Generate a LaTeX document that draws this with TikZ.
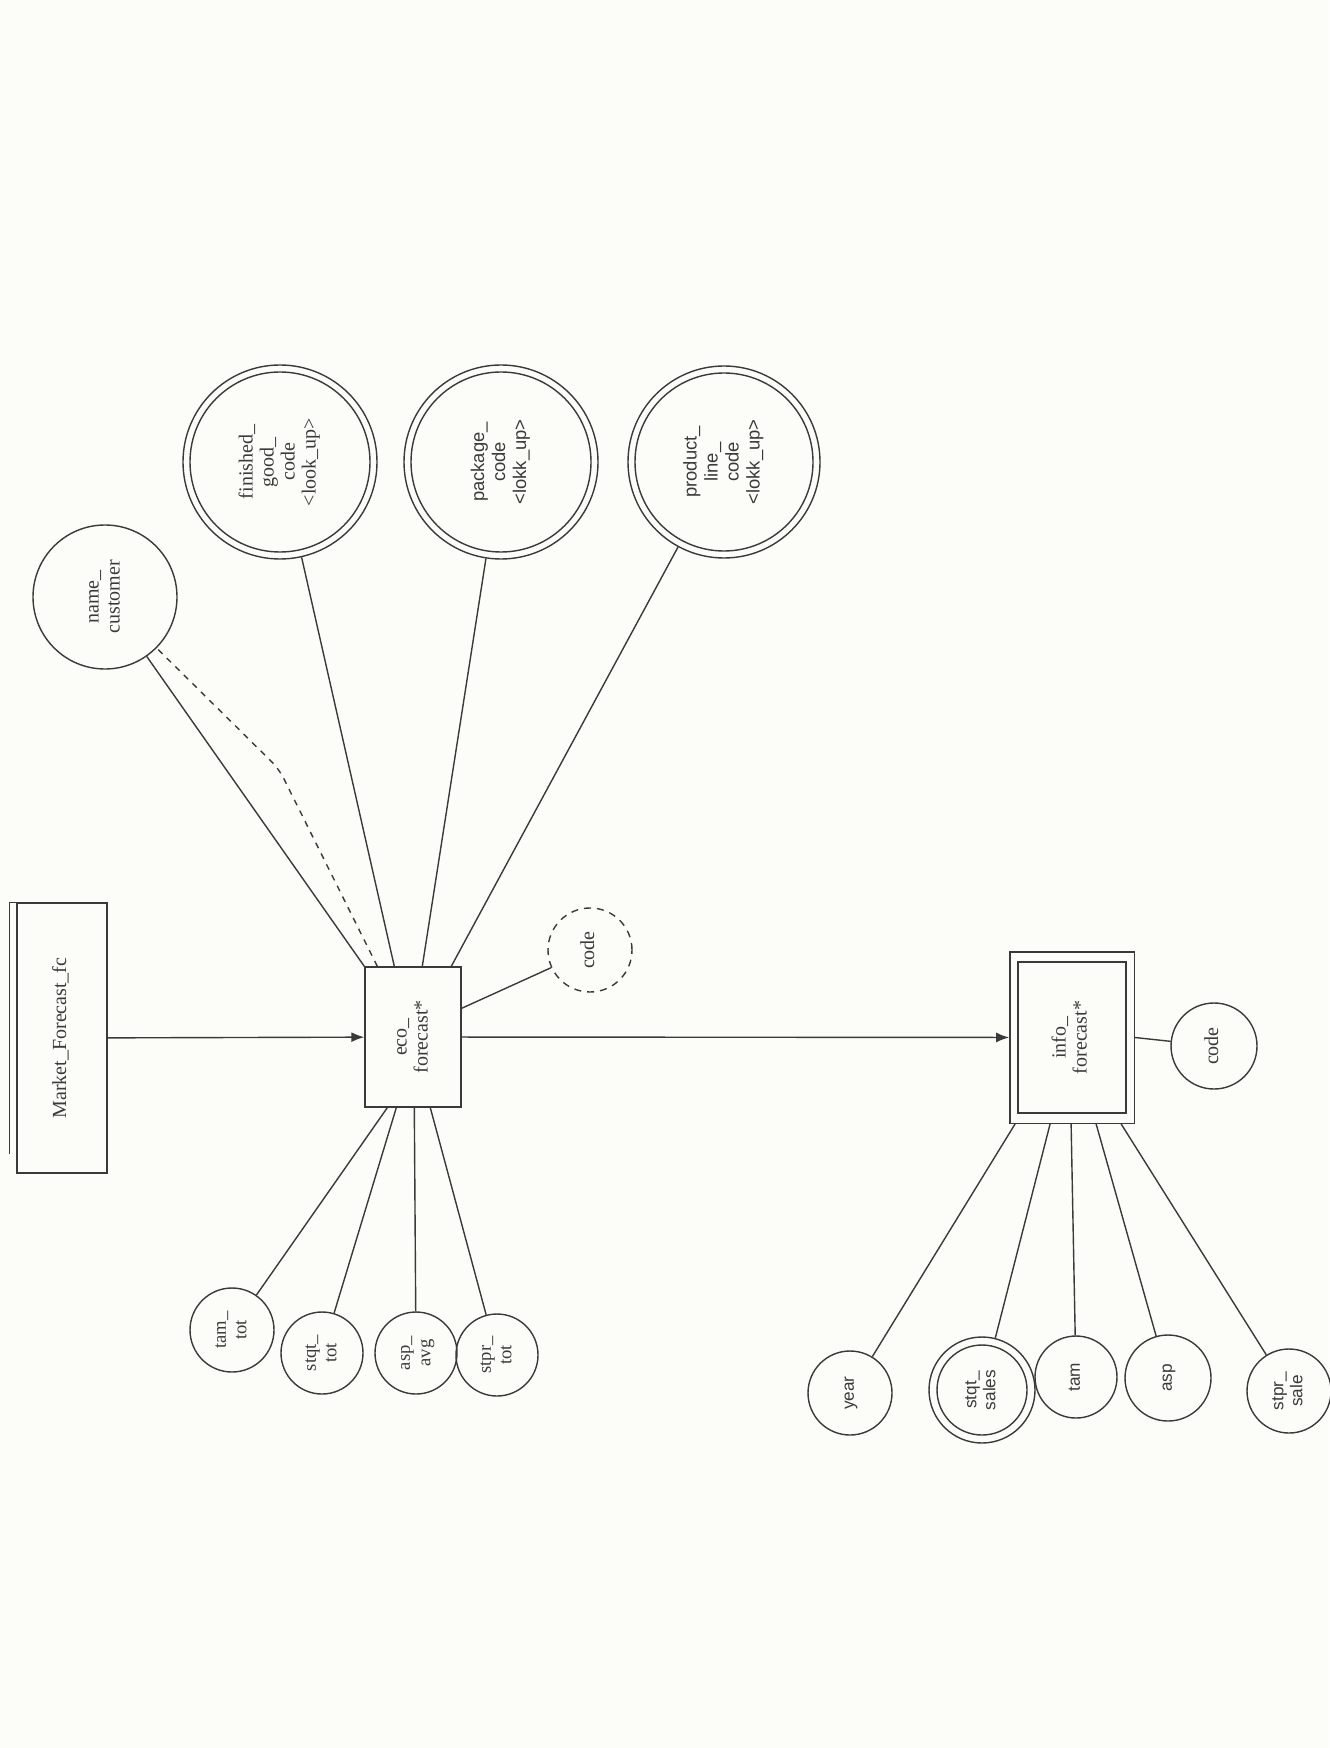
\documentclass[tikz,border=0pt]{standalone}
\usepackage{fontspec}
\setmainfont{Liberation Serif}
\newfontfamily\sansf{Liberation Sans}
\usepackage{graphicx}
\usetikzlibrary{arrows.meta,fit,calc}
\definecolor{paper}{HTML}{FCFCF8}
\definecolor{ink}{HTML}{3A3A3A}
% text set bottom-to-top, lines stacked left to right
\newcommand\vtext[1]{\rotatebox{90}{\begin{tabular}{@{}c@{}}#1\end{tabular}}}

\begin{document}
\begin{tikzpicture}[x=0.5pt,y=-0.5pt,
  every node/.style={font=\fontsize{10}{10.5}\selectfont, text=ink},
  ln/.style={draw=ink, line width=0.7pt},
  entity/.style={ln, rectangle, inner sep=0pt},
  attr/.style={ln, circle, inner sep=0pt},
  arr/.style={ln, -{Latex[length=6.5pt,width=5pt]}},
  small/.style={font=\fontsize{9.3}{10.3}\selectfont},
  sans/.style={font=\sansf\fontsize{9.2}{10.5}\selectfont},
  smallsans/.style={font=\sansf\fontsize{8.6}{9.6}\selectfont},
  dashcirc/.style={dash pattern=on 3.5pt off 3pt},
]
\useasboundingbox (0,0) rectangle (1329,1748);
\fill[paper] (0,0) rectangle (1329,1748);

% entities
\node[entity, minimum width=45pt, minimum height=135pt] (mkt) at (62,1038)
  {\vtext{Market\_Forecast\_fc}};
\draw[ln] ([xshift=-3.5pt,yshift=10pt]mkt.south west) -- ([xshift=-3.5pt]mkt.north west) -- (mkt.north west);

\node[entity, minimum width=48pt, minimum height=70pt] (eco) at (413,1037)
  {\vtext{eco\_\\forecast*}};

\node[entity, minimum width=54pt, minimum height=75.5pt] (infoin) at (1072,1037.5)
  {\vtext{info\_\\forecast*}};
\node[entity, fit=(infoin), inner xsep=3.75pt, inner ysep=4.75pt] (info) {};

% attributes of eco_forecast
\node[attr, minimum size=72pt] (name) at (105,597) {\vtext{name\_\\customer}};

\node[attr, minimum size=97pt] (fg) at (280,462) {};
\node[attr, minimum size=90pt] (fgin) at (fg) {\vtext{finished\_\\good\_\\code\\<look\_up>}};

\node[attr, minimum size=97pt] (pkg) at (501,462) {};
\node[attr, minimum size=90pt, sans] (pkgin) at (pkg) {\vtext{package\_\\code\\<lokk\_up>}};

\node[attr, minimum size=96pt] (prod) at (724,462) {};
\node[attr, minimum size=89pt, sans] (prodin) at (prod) {\vtext{product\_\\line\_\\code\\<lokk\_up>}};

\node[attr, dashcirc, minimum size=42pt] (ecocode) at (590,950) {\vtext{code}};

\node[attr, small, minimum size=42pt] (tamtot) at (232,1330) {\vtext{tam\_\\tot}};
\node[attr, small, minimum size=41pt] (stqttot) at (322,1353) {\vtext{stqt\_\\tot}};
\node[attr, small, minimum size=41pt] (aspavg) at (416,1353) {\vtext{asp\_\\avg}};
\node[attr, small, minimum size=41pt] (stprtot) at (497,1355) {\vtext{stpr\_\\tot}};

% attributes of info_forecast
\node[attr, minimum size=43pt] (infocode) at (1214,1046) {\vtext{code}};

\node[attr, smallsans, minimum size=42pt] (year) at (850,1393) {\vtext{year}};
\node[attr, minimum size=53pt] (stqts) at (982,1390) {};
\node[attr, smallsans, minimum size=45pt] (stqtsin) at (stqts) {\vtext{stqt\_\\sales}};
\node[attr, smallsans, minimum size=41pt] (tam) at (1076,1377) {\vtext{tam}};
\node[attr, smallsans, minimum size=43pt] (asp) at (1168,1378) {\vtext{asp}};
\node[attr, smallsans, minimum size=42pt] (stprs) at (1289,1391) {\vtext{stpr\_\\sale}};

% relationships
\draw[arr] (mkt) -- (eco);
\draw[arr] (eco) -- (info);

% eco_forecast links
\coordinate (bend) at (279,769);
\draw[ln] (eco.north west) -- (name);
\draw[ln, dash pattern=on 3pt off 3pt, rounded corners=5pt]
  ([xshift=6.5pt]eco.north west) -- (bend) -- (name);
\draw[ln] ([xshift=15pt]eco.north west) -- (fg);
\draw[ln] ([xshift=29pt]eco.north west) -- (pkg);
\draw[ln] ([xshift=43.5pt]eco.north west) -- (prod);
\draw[ln] ([yshift=-21pt]eco.north east) -- (ecocode);
\draw[ln] ([xshift=11.5pt]eco.south west) -- (tamtot);
\draw[ln] ([xshift=16pt]eco.south west) -- (stqttot);
\draw[ln] ([xshift=25pt]eco.south west) -- (aspavg);
\draw[ln] ([xshift=33pt]eco.south west) -- (stprtot);

% info_forecast links
\draw[ln] (info.east) -- (infocode);
\draw[ln] ([xshift=3pt]info.south west) -- (year);
\draw[ln] ([xshift=20.5pt]info.south west) -- (stqts);
\draw[ln] ([xshift=31pt]info.south west) -- (tam);
\draw[ln] ([xshift=43.5pt]info.south west) -- (asp);
\draw[ln] ([xshift=56pt]info.south west) -- (stprs);
\end{tikzpicture}
\end{document}
